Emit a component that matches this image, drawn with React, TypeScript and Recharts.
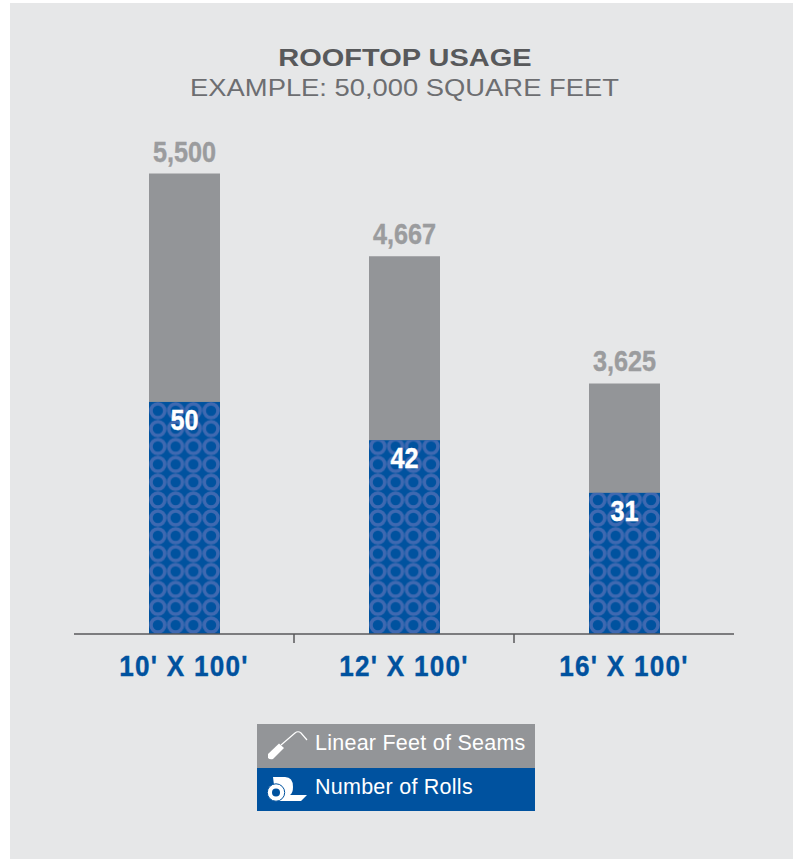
import React from 'react';
import { BarChart, Bar, XAxis, YAxis, LabelList, Legend } from 'recharts';

const sizes = ["10' X 100'", "12' X 100'", "16' X 100'"];
const seamFeet = [5500, 4667, 3625];
const rollCounts = [50, 42, 31];
const legendLabels = ['Linear Feet of Seams', 'Number of Rolls'];

const chartData = sizes.map((size, i) => ({ size, seams: seamFeet[i], rolls: rollCounts[i] }));

const GREY = '#939598';
const BLUE = '#00529f';
const SANS = '"Liberation Sans", Arial, sans-serif';

const WIDTH = 793;
const HEIGHT = 859;
const margin = { top: 134, right: 59, bottom: 108, left: 74 };
const bandWidth = (WIDTH - margin.left - margin.right) / sizes.length;

// no condensed font installed, so squeeze the bold face sideways
function NarrowText({ x, y, fill, squeeze = 0.87, spacing = 0, children }: any) {
  return (
    <text
      transform={`translate(${x} ${y}) scale(${squeeze} 1)`}
      textAnchor="middle"
      fill={fill}
      stroke={fill}
      strokeWidth={0.4}
      fontFamily={SANS}
      fontWeight={700}
      fontSize={29}
      letterSpacing={spacing}
    >
      {children}
    </text>
  );
}

function SizeTick({ x, y, payload, index }: any) {
  return (
    <g>
      {index < sizes.length - 1 && (
        <line x1={x + bandWidth / 2} x2={x + bandWidth / 2} y1={y - 8} y2={y + 1} stroke="#58595b" strokeWidth={1.5} />
      )}
      <NarrowText x={x} y={y + 34} fill={BLUE} squeeze={0.9} spacing={1.4}>
        {payload.value}
      </NarrowText>
    </g>
  );
}

function SeamLabel({ x, y, width, value }: any) {
  return (
    <NarrowText x={x + width / 2} y={y - 12} fill="#9b9c9e">
      {Number(value).toLocaleString('en-US')}
    </NarrowText>
  );
}

function RollLabel({ x, y, width, value }: any) {
  return (
    <NarrowText x={x + width / 2} y={y + 28} fill="#fff">
      {value}
    </NarrowText>
  );
}

// ring pattern is anchored to each bar so every bar gets 4 whole columns
function RollBar({ x, y, width, height, index }: any) {
  const id = `rings-${index}`;
  const w = width / 4;
  return (
    <g>
      <defs>
        <pattern id={id} patternUnits="userSpaceOnUse" x={x} y={y + height} width={w} height={17.86}>
          <circle cx={w / 2} cy={8.93} r={6.9} fill="none" stroke="#3f69b1" strokeWidth={3.5} />
        </pattern>
      </defs>
      <rect x={x} y={y} width={width} height={height} fill={BLUE} />
      <rect x={x} y={y} width={width} height={height} fill={`url(#${id})`} />
    </g>
  );
}

function SeamIcon() {
  return (
    <svg width={58} height={44} style={{ display: 'block' }}>
      <path d="M24 21 L38 9 Q41 6.5 44 9 L50 16" fill="none" stroke="#fff" strokeWidth={1.2} />
      <path d="M11 30 L22 19.5 L27 24 L16 35 Q13 36 11 34 Z" fill="#fff" />
    </svg>
  );
}

function RollIcon() {
  return (
    <svg width={58} height={43} style={{ display: 'block' }}>
      <path d="M16 9 H28 Q36 9 36 19 Q36 25 33 27 H50 L44 33 H19 Z" fill="#fff" />
      <circle cx={19} cy={24.5} r={8.7} fill="#fff" stroke={BLUE} strokeWidth={1} />
      <circle cx={19} cy={24.5} r={4} fill={BLUE} />
    </svg>
  );
}

function LegendBox() {
  const rows = [
    { label: legendLabels[0], bg: GREY, h: 44, icon: <SeamIcon /> },
    { label: legendLabels[1], bg: BLUE, h: 43, icon: <RollIcon /> },
  ];
  return (
    <div style={{ width: 278 }}>
      {rows.map((r) => (
        <div key={r.label} style={{ display: 'flex', alignItems: 'center', height: r.h, background: r.bg, color: '#fff', fontFamily: SANS, fontSize: 21.5, letterSpacing: 0.25 }}>
          {r.icon}
          <span style={{ position: 'relative', top: -2.5 }}>{r.label}</span>
        </div>
      ))}
    </div>
  );
}

export default function App() {
  return (
    <div style={{ position: 'absolute', left: 0, top: 0, width: WIDTH, height: HEIGHT, background: '#fff', overflow: 'hidden' }}>
      <div style={{ position: 'absolute', left: 10, top: 3, width: WIDTH - 10, height: HEIGHT - 3, background: '#e6e7e8' }} />
      <div style={{ position: 'absolute', left: 0, top: 44, width: 810, textAlign: 'center', fontFamily: SANS, fontWeight: 700, fontSize: 23, lineHeight: '28px', color: '#58595b', transform: 'scaleX(1.26)', transformOrigin: '405px 0' }}>
        ROOFTOP USAGE
      </div>
      <div style={{ position: 'absolute', left: 0, top: 73, width: 809, textAlign: 'center', fontFamily: SANS, fontSize: 24, lineHeight: '29px', color: '#6d6e71', transform: 'scaleX(1.14)', transformOrigin: '404.5px 0' }}>
        EXAMPLE: 50,000 SQUARE FEET
      </div>
      <div style={{ position: 'absolute', left: 0, top: 0 }}>
        <BarChart width={WIDTH} height={HEIGHT} data={chartData} margin={margin} barSize={71} barGap={-71}>
          <XAxis dataKey="size" axisLine={{ stroke: '#58595b', strokeWidth: 1.5 }} tickLine={false} tick={<SizeTick />} interval={0} />
          <YAxis yAxisId="seams" hide scale="log" domain={[2204, 5950]} allowDataOverflow />
          <YAxis yAxisId="rolls" hide domain={[1.5, 106]} allowDataOverflow />
          <Legend
            content={<LegendBox />}
            wrapperStyle={{ position: 'absolute', left: 257, top: 724, width: 278, bottom: 'auto' }}
          />
          <Bar yAxisId="seams" dataKey="seams" fill={GREY} isAnimationActive={false}>
            <LabelList dataKey="seams" content={<SeamLabel />} />
          </Bar>
          <Bar yAxisId="rolls" dataKey="rolls" fill={BLUE} shape={<RollBar />} isAnimationActive={false}>
            <LabelList dataKey="rolls" content={<RollLabel />} />
          </Bar>
        </BarChart>
      </div>
    </div>
  );
}
